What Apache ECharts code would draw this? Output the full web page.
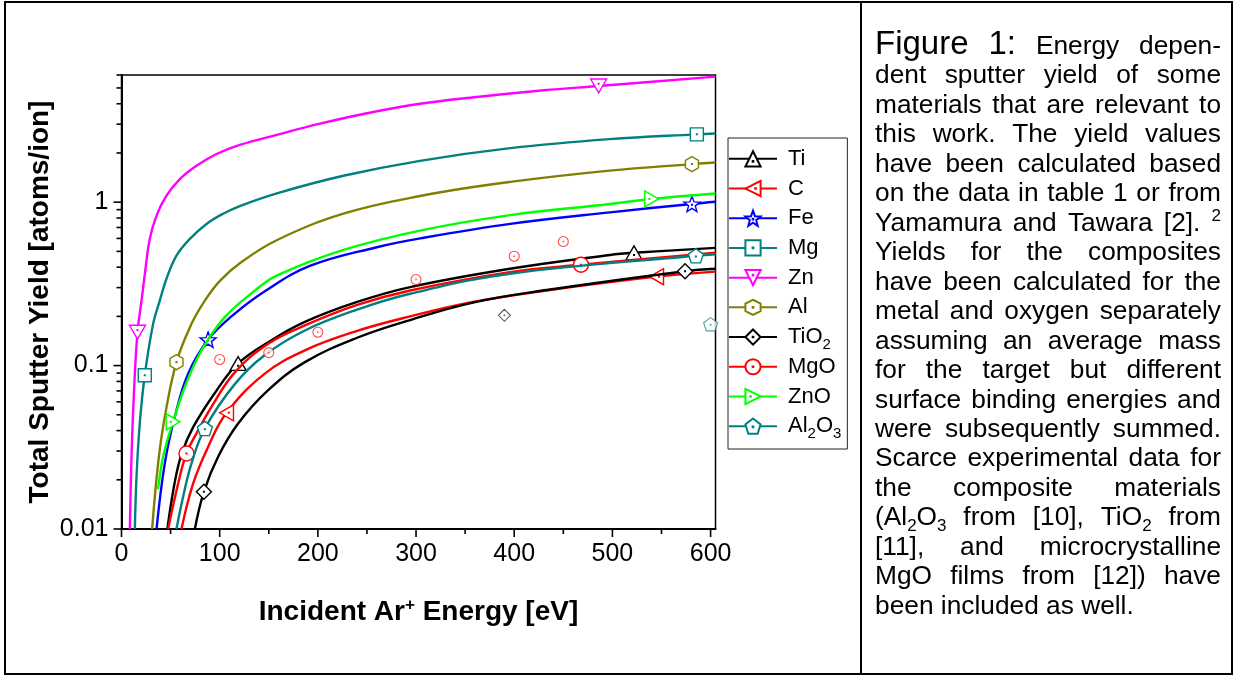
<!DOCTYPE html>
<html>
<head>
<meta charset="utf-8">
<script src="https://cdn.jsdelivr.net/npm/echarts@6/dist/echarts.min.js"></script>
<style>
  html, body { margin: 0; padding: 0; background: #fff; }
  #chart { width: 1235px; height: 677px; }
</style>
</head>
<body>
<div id="chart"></div>
<script>
// ---- Series: calculated sputter yields, [energy eV, yield atoms/ion] ----
const yieldTi    = [[46.7,0.01],[54,0.019],[61.4,0.029],[73,0.042],[95.1,0.068],[118.8,0.103],[152.8,0.143],[186.8,0.185],[240,0.245],[294,0.302],[395.6,0.391],[497.5,0.475],[522,0.49],[605,0.525]];
const yieldC     = [[61.1,0.01],[73,0.019],[88.2,0.0318],[107,0.0514],[146,0.0893],[186.8,0.124],[240,0.163],[294,0.2],[358,0.245],[433,0.288],[545,0.35],[605,0.376]];
const yieldFe    = [[35.7,0.01],[44.1,0.0252],[54.3,0.0486],[67.9,0.0893],[88.2,0.144],[112,0.2],[146,0.285],[191.8,0.407],[260,0.53],[304,0.6],[396,0.736],[497.5,0.866],[581,0.975],[605,1.005]];
const yieldMg    = [[13.6,0.01],[15.3,0.0209],[18.6,0.0442],[23.7,0.0873],[32.2,0.18],[39,0.25],[45.8,0.34],[56,0.471],[69.6,0.596],[86.6,0.736],[103.5,0.85],[120.5,0.947],[160,1.14],[226,1.45],[304,1.79],[396,2.14],[497,2.43],[586,2.6],[605,2.63]];
const yieldZn    = [[8.5,0.01],[10.2,0.0277],[12.8,0.0707],[16.3,0.16],[20.4,0.25],[23.7,0.36],[28.8,0.596],[35.7,0.827],[45.8,1.096],[59.4,1.385],[76.4,1.67],[96.8,1.97],[120.5,2.24],[160,2.6],[200,3.0],[250,3.5],[304,4.0],[362,4.4],[430,4.84],[486,5.14],[605,5.86]];
const yieldAl    = [[31.2,0.01],[37.3,0.0252],[44.1,0.0486],[56,0.105],[71.3,0.18],[84.9,0.25],[100.2,0.33],[120.5,0.423],[158,0.585],[226,0.85],[304,1.09],[396,1.33],[497,1.56],[581,1.71],[605,1.75]];
const yieldTiO2  = [[74.7,0.01],[83.9,0.0169],[98.4,0.0277],[118.8,0.0442],[149.4,0.0707],[186.8,0.105],[240,0.148],[294,0.19],[358,0.243],[433,0.29],[574,0.378],[605,0.391]];
const yieldMgO   = [[47.5,0.01],[57.7,0.019],[66.2,0.029],[76.4,0.0385],[91.7,0.0559],[115.4,0.0909],[149.4,0.136],[186.8,0.176],[240,0.235],[294,0.288],[395.6,0.373],[468,0.414],[605,0.49]];
const yieldZnO   = [[37.3,0.0175],[42.4,0.0277],[52.6,0.0453],[64.5,0.074],[81.5,0.124],[105.2,0.198],[136,0.288],[158,0.355],[226,0.51],[304,0.67],[396,0.833],[497.5,0.975],[540,1.046],[605,1.13]];
const yieldAl2O3 = [[56,0.01],[62.8,0.0158],[71.3,0.0252],[84.9,0.0412],[115.4,0.077],[146,0.116],[186.8,0.164],[240,0.22],[294,0.275],[395.6,0.365],[585,0.47],[605,0.48]];

// energies at which each curve carries its marker symbol
const markTi = [118.8, 522], markC = [107, 545], markFe = [88.2, 581], markMg = [23.7, 586], markZn = [16.3, 486];
const markAl = [56, 581], markTiO2 = [83.9, 574], markMgO = [66.2, 468], markZnO = [52.6, 540], markAl2O3 = [84.9, 585];

// ---- Experimental data points ----
const expMgO   = [[100,0.109],[150,0.12],[200,0.16],[300,0.336],[400,0.467],[450,0.574]];
const expTiO2  = [[390,0.203]];
const expAl2O3 = [[600,0.179]];

// ---- Names, labels, ticks ----
const seriesNames  = ['Ti','C','Fe','Mg','Zn','Al','TiO2','MgO','ZnO','Al2O3'];
const legendLabels = ['Ti','C','Fe','Mg','Zn','Al','TiO{sub|2}','MgO','ZnO','Al{sub|2}O{sub|3}'];
const xMajorTicks = [0,100,200,300,400,500,600];
const xMinorTicks = [50,150,250,350,450,550];
const yMajorTicks = [0.01,0.1,1];
const yTickLabels = ['0.01','0.1','1'];
const yMinorTicks = [0.02,0.03,0.04,0.05,0.06,0.07,0.08,0.09,0.2,0.3,0.4,0.5,0.6,0.7,0.8,0.9,2,3,4,5,6];

const curves  = [yieldTi, yieldC, yieldFe, yieldMg, yieldZn, yieldAl, yieldTiO2, yieldMgO, yieldZnO, yieldAl2O3];
const marks   = [markTi, markC, markFe, markMg, markZn, markAl, markTiO2, markMgO, markZnO, markAl2O3];
const colors  = ['#000000','#ff0000','#0000ff','#008080','#ff00ff','#808000','#000000','#ff0000','#00ff00','#008080'];

// hollow marker outlines, each with a small centre dot
const DOT = ' M-0.35,-0.35L0.35,-0.35L0.35,0.35L-0.35,0.35Z';
const SYM = {
  triUp:   'path://M0,-10L8.66,5L-8.66,5Z' + DOT,
  triLeft: 'path://M-10,0L5,-8.66L5,8.66Z' + DOT,
  triRight:'path://M10,0L-5,-8.66L-5,8.66Z' + DOT,
  triDown: 'path://M0,10L8.66,-5L-8.66,-5Z' + DOT,
  square:  'path://M-7,-7L7,-7L7,7L-7,7Z' + DOT,
  diamond: 'path://M0,-9L9,0L0,9L-9,0Z' + DOT,
  circle:  'path://M-8,0A8,8 0 1,0 8,0A8,8 0 1,0 -8,0Z' + DOT,
  hexagon: 'path://M0,-8L6.93,-4L6.93,4L0,8L-6.93,4L-6.93,-4Z' + DOT,
  pentagon:'path://M0,-8L7.61,-2.47L4.7,6.47L-4.7,6.47L-7.61,-2.47Z' + DOT,
  star:    'path://M0,-9L2.233,-3.074L8.56,-2.78L3.614,1.174L5.29,7.28L0,3.8L-5.29,7.28L-3.614,1.174L-8.56,-2.78L-2.233,-3.074Z' + DOT
};
const symbols = [SYM.triUp, SYM.triLeft, SYM.star, SYM.square, SYM.triDown, SYM.hexagon, SYM.diamond, SYM.circle, SYM.triRight, SYM.pentagon];
const symSizes = [16, 16, 16, 13, 16, 15, 15, 15, 16, 15];

const FONT = 'Liberation Sans';

const lineSeries = seriesNames.map((name, i) => ({
  type: 'line',
  name,
  smooth: 0.4,
  symbol: symbols[i],
  symbolSize: symSizes[i],
  symbolKeepAspect: true,
  showSymbol: true,
  showAllSymbol: true,
  clip: true,
  lineStyle: { color: colors[i], width: 2.4 },
  itemStyle: { color: '#ffffff', borderColor: colors[i], borderWidth: 1.4 },
  emphasis: { disabled: true },
  z: 2 + i * 0.01,
  data: curves[i].map(p => marks[i].includes(p[0])
    ? { value: p }
    : { value: p, symbol: 'none' })
}));

function expSeries(data, sym, size, color) {
  return {
    type: 'scatter', data, symbol: sym, symbolSize: size, symbolKeepAspect: true,
    itemStyle: { color: '#ffffff', borderColor: color, borderWidth: 1.1 },
    emphasis: { disabled: true }, silent: true, z: 3
  };
}

// axis tick marks drawn through the axis scales
function tickSeries(values, axis, len) {
  return {
    type: 'custom', coordinateSystem: 'cartesian2d', silent: true, clip: false, z: 6,
    data: values.map(v => axis === 'x' ? [v, 0.01] : [0, v]),
    renderItem(params, api) {
      const p = api.coord([api.value(0), api.value(1)]);
      const shape = axis === 'x'
        ? { x1: p[0], y1: p[1], x2: p[0], y2: p[1] + len }
        : { x1: p[0] - len, y1: p[1], x2: p[0], y2: p[1] };
      return { type: 'line', shape, style: { stroke: '#000', lineWidth: 1.6 } };
    }
  };
}

// ---- Caption (justified block of text on the right) ----
const captionLines = [
  '{big|Figure} {big|1:} Energy depen-',
  'dent sputter yield of some',
  'materials that are relevant to',
  'this work. The yield values',
  'have been calculated based',
  'on the data in table 1 or from',
  'Yamamura and Tawara [2]. {sup|2}',
  'Yields for the composites',
  'have been calculated for the',
  'metal and oxygen separately',
  'assuming an average mass',
  'for the target but different',
  'surface binding energies and',
  'were subsequently summed.',
  'Scarce experimental data for',
  'the composite materials',
  '(Al{sub|2}O{sub|3} from [10], TiO{sub|2} from',
  '[11], and microcrystalline',
  'MgO films from [12]) have',
  'been included as well.'
];

function buildCaption() {
  const X0 = 875, X1 = 1221, Y0 = 48.5, DY = 29.47;
  const sizes = { n: 26.3, big: 33, sub: 17, sup: 17 };
  const shifts = { n: 0, big: 0, sub: 5.5, sup: -10 };
  const ctx = document.createElement('canvas').getContext('2d');
  const measure = (t, s) => { ctx.font = sizes[s] + 'px "' + FONT + '"'; return ctx.measureText(t).width; };
  const els = [];
  captionLines.forEach((line, li) => {
    const words = line.split(' ').map(w => {
      const segs = [];
      const re = /\{(\w+)\|([^}]*)\}|([^{]+)/g;
      let m;
      while ((m = re.exec(w))) segs.push(m[1] ? [m[2], m[1]] : [m[3], 'n']);
      const width = segs.reduce((a, s) => a + measure(s[0], s[1]), 0);
      return { segs, width };
    });
    const total = words.reduce((a, w) => a + w.width, 0);
    const last = li === captionLines.length - 1;
    const gap = (last || words.length < 2) ? measure(' ', 'n') : (X1 - X0 - total) / (words.length - 1);
    const base = Y0 + li * DY + 0.26 * sizes.n;
    let x = X0;
    words.forEach(w => {
      w.segs.forEach(([t, s]) => {
        els.push({
          type: 'text', x, y: base + shifts[s] - 0.33 * sizes[s], silent: true,
          style: { text: t, fill: '#000', font: sizes[s] + 'px "' + FONT + '"',
                   textAlign: 'left', align: 'left', textVerticalAlign: 'middle', verticalAlign: 'middle' }
        });
        x += measure(t, s);
      });
      x += gap;
    });
  });
  return els;
}

const chart = echarts.init(document.getElementById('chart'), null, { renderer: 'canvas' });

chart.setOption({
  animation: false,
  backgroundColor: '#ffffff',
  textStyle: { fontFamily: FONT },
  grid: {
    left: 121.5, top: 75, width: 594, height: 454,
    show: true, borderColor: '#000', borderWidth: 1.5, backgroundColor: 'transparent'
  },
  xAxis: {
    type: 'value', min: 0, max: 605, interval: 100,
    name: 'Incident Ar{sup|+} Energy [eV]', nameLocation: 'middle', nameGap: 68,
    nameTextStyle: {
      fontFamily: FONT, fontSize: 28, fontWeight: 'bold', color: '#000', lineHeight: 31,
      rich: { sup: { fontFamily: FONT, fontSize: 17, fontWeight: 'bold', color: '#000', lineHeight: 17, verticalAlign: 'top' } }
    },
    axisLine: { lineStyle: { color: '#000', width: 2 } },
    axisTick: { show: false },
    splitLine: { show: false },
    axisLabel: {
      fontFamily: FONT, fontSize: 25, color: '#000', margin: 13,
      formatter: v => xMajorTicks.includes(v) ? String(v) : ''
    }
  },
  yAxis: {
    type: 'log', logBase: 10, min: 0.01, max: 6,
    name: 'Total Sputter Yield [atoms/ion]', nameLocation: 'middle', nameGap: 67, nameRotate: 90,
    nameTextStyle: { fontFamily: FONT, fontSize: 28, fontWeight: 'bold', color: '#000' },
    axisLine: { show: true, lineStyle: { color: '#000', width: 2 } },
    axisTick: { show: false },
    splitLine: { show: false },
    minorTick: { show: false },
    axisLabel: {
      fontFamily: FONT, fontSize: 25, color: '#000', margin: 13,
      formatter: v => {
        const k = yMajorTicks.findIndex(t => Math.abs(Math.log10(t) - Math.log10(v)) < 1e-6);
        return k >= 0 ? yTickLabels[k] : '';
      }
    }
  },
  legend: {
    data: seriesNames,
    orient: 'vertical', left: 728, top: 138,
    padding: [6, 6, 8, 0], itemGap: 0, itemWidth: 48, itemHeight: 19,
    borderColor: '#222', borderWidth: 1, backgroundColor: '#fff',
    selectedMode: false,
    formatter: name => legendLabels[seriesNames.indexOf(name)],
    textStyle: {
      fontFamily: FONT, fontSize: 22, color: '#000', lineHeight: 29.7, padding: [0, 0, 0, 6],
      rich: { sub: { fontFamily: FONT, fontSize: 15, color: '#000', lineHeight: 15, verticalAlign: 'bottom' } }
    }
  },
  graphic: [
    { type: 'rect', silent: true, z: -1, shape: { x: 5, y: 2, width: 1227, height: 672 },
      style: { fill: 'none', stroke: '#000', lineWidth: 2 } },
    { type: 'line', silent: true, shape: { x1: 861, y1: 2, x2: 861, y2: 674 },
      style: { stroke: '#000', lineWidth: 2 } },
    ...buildCaption()
  ],
  series: [
    ...lineSeries,
    expSeries(expMgO, SYM.circle, 10, '#ff2020'),
    expSeries(expTiO2, SYM.diamond, 12, '#333333'),
    expSeries(expAl2O3, SYM.pentagon, 14, '#2a8a8a'),
    tickSeries(xMajorTicks, 'x', 8),
    tickSeries(xMinorTicks, 'x', 5),
    tickSeries(yMajorTicks, 'y', 8),
    tickSeries(yMinorTicks, 'y', 5)
  ]
});
</script>
</body>
</html>
